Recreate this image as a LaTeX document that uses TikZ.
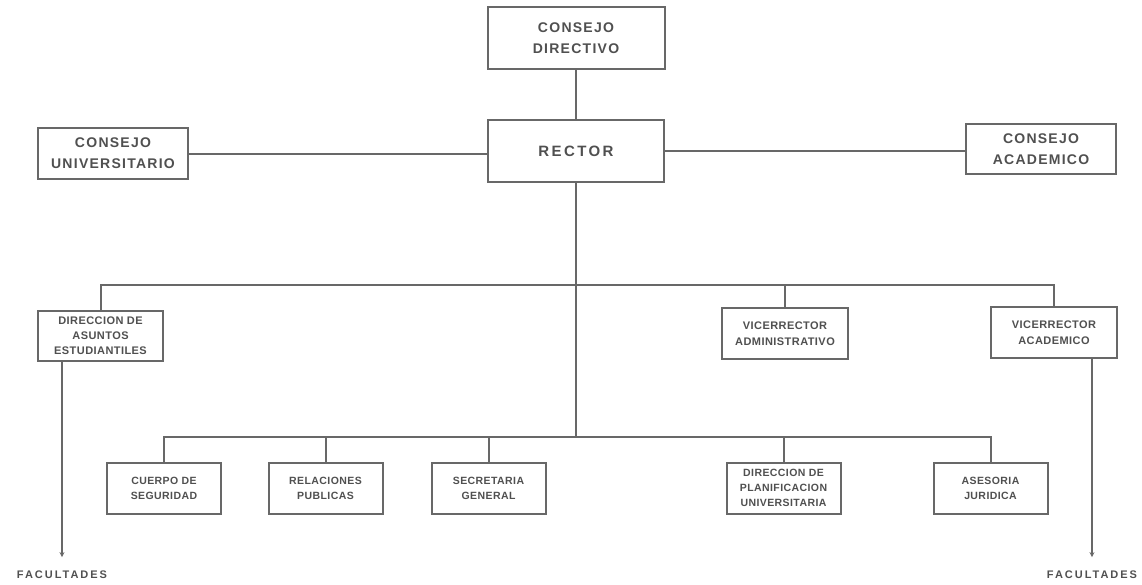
\documentclass[tikz,border=0pt]{standalone}
\usepackage{fontspec}
\setmainfont{Liberation Sans}
\newfontfamily\orgfont[LetterSpace=9]{Liberation Sans}
\newfontfamily\rectorfont[LetterSpace=16]{Liberation Sans}
\newfontfamily\midfont[LetterSpace=4]{Liberation Sans}
\newfontfamily\facfont[LetterSpace=18]{Liberation Sans}
\usetikzlibrary{arrows.meta}
\definecolor{linegray}{HTML}{686868}
\definecolor{textgray}{HTML}{505050}

\begin{document}
\begin{tikzpicture}[x=1pt, y=-1pt, line width=2pt, draw=linegray,
    orgbox/.style={draw=linegray, line width=2pt, align=center, text=textgray, inner sep=0pt},
    bigtxt/.style={font=\orgfont\bfseries\fontsize{14}{21}\selectfont},
    midtxt/.style={font=\midfont\bfseries\fontsize{11}{16}\selectfont},
    smalltxt/.style={font=\midfont\bfseries\fontsize{10.5}{15}\selectfont},
    fac/.style={text=textgray, inner sep=0pt, font=\facfont\bfseries\fontsize{11}{13}\selectfont},
    tip/.style={-{Stealth[length=5pt, width=5pt]}, shorten >=13pt}]
  \useasboundingbox[fill=white] (0,0) rectangle (1142,584);

  % top
  \node[orgbox, bigtxt, minimum width=177pt, minimum height=62pt] (directivo) at (576,38) {CONSEJO\\DIRECTIVO};
  \node[orgbox, font=\rectorfont\bfseries\fontsize{15}{18}\selectfont,
        minimum width=176pt, minimum height=62pt] (rector) at (576,151) {RECTOR};
  \node[orgbox, bigtxt, minimum width=150pt, minimum height=51pt] (univ) at (113,153.5) {CONSEJO\\UNIVERSITARIO};
  \node[orgbox, bigtxt, minimum width=150pt, minimum height=50pt] (acad) at (1041,149) {CONSEJO\\ACADEMICO};

  % middle row
  \node[orgbox, midtxt, font=\midfont\bfseries\fontsize{11}{15}\selectfont,
        minimum width=125pt, minimum height=50pt] (asuntos) at (100.5,336) {DIRECCION DE\\ASUNTOS\\ESTUDIANTILES};
  \node[orgbox, midtxt, minimum width=126pt, minimum height=51pt] (vadmin) at (785,333.5) {VICERRECTOR\\ADMINISTRATIVO};
  \node[orgbox, midtxt, minimum width=126pt, minimum height=51pt] (vacad) at (1054,332.5) {VICERRECTOR\\ACADEMICO};

  % bottom row
  \foreach \name/\x/\txt in {cuerpo/164/{CUERPO DE\\SEGURIDAD},
                             relaciones/325.5/{RELACIONES\\PUBLICAS},
                             secretaria/488.5/{SECRETARIA\\GENERAL},
                             planif/783.5/{DIRECCION DE\\PLANIFICACION\\UNIVERSITARIA},
                             asesoria/990.5/{ASESORIA\\JURIDICA}}{
    \node[orgbox, smalltxt, minimum width=114pt, minimum height=51pt] (\name) at (\x,488) {\txt};
  }

  \node[fac] (facizq) at (62,575) {FACULTADES};
  \node[fac] (facder) at (1092,575) {FACULTADES};

  \coordinate (bus1) at (576,285);
  \coordinate (bus2) at (576,437);

  % connectors
  \draw (directivo) -- (rector);
  \draw (univ.east) -- (univ.east -| rector.west);
  \draw ([yshift=-2pt]acad.west -| rector.east) -- ([yshift=-2pt]acad.west);
  \draw (rector) -- (bus2);
  \draw (asuntos.north) -- (asuntos.north |- bus1) -| (vacad.north);
  \draw (vadmin.north) -- (vadmin.north |- bus1);
  \draw (cuerpo.north) -- (cuerpo.north |- bus2) -| (asesoria.north);
  \foreach \n in {relaciones, secretaria, planif}
    \draw (\n.north) -- (\n.north |- bus2);
  \draw[tip] (asuntos.south -| facizq.north) -- (facizq.north);
  \draw[tip] (vacad.south -| facder.north) -- (facder.north);
\end{tikzpicture}
\end{document}
